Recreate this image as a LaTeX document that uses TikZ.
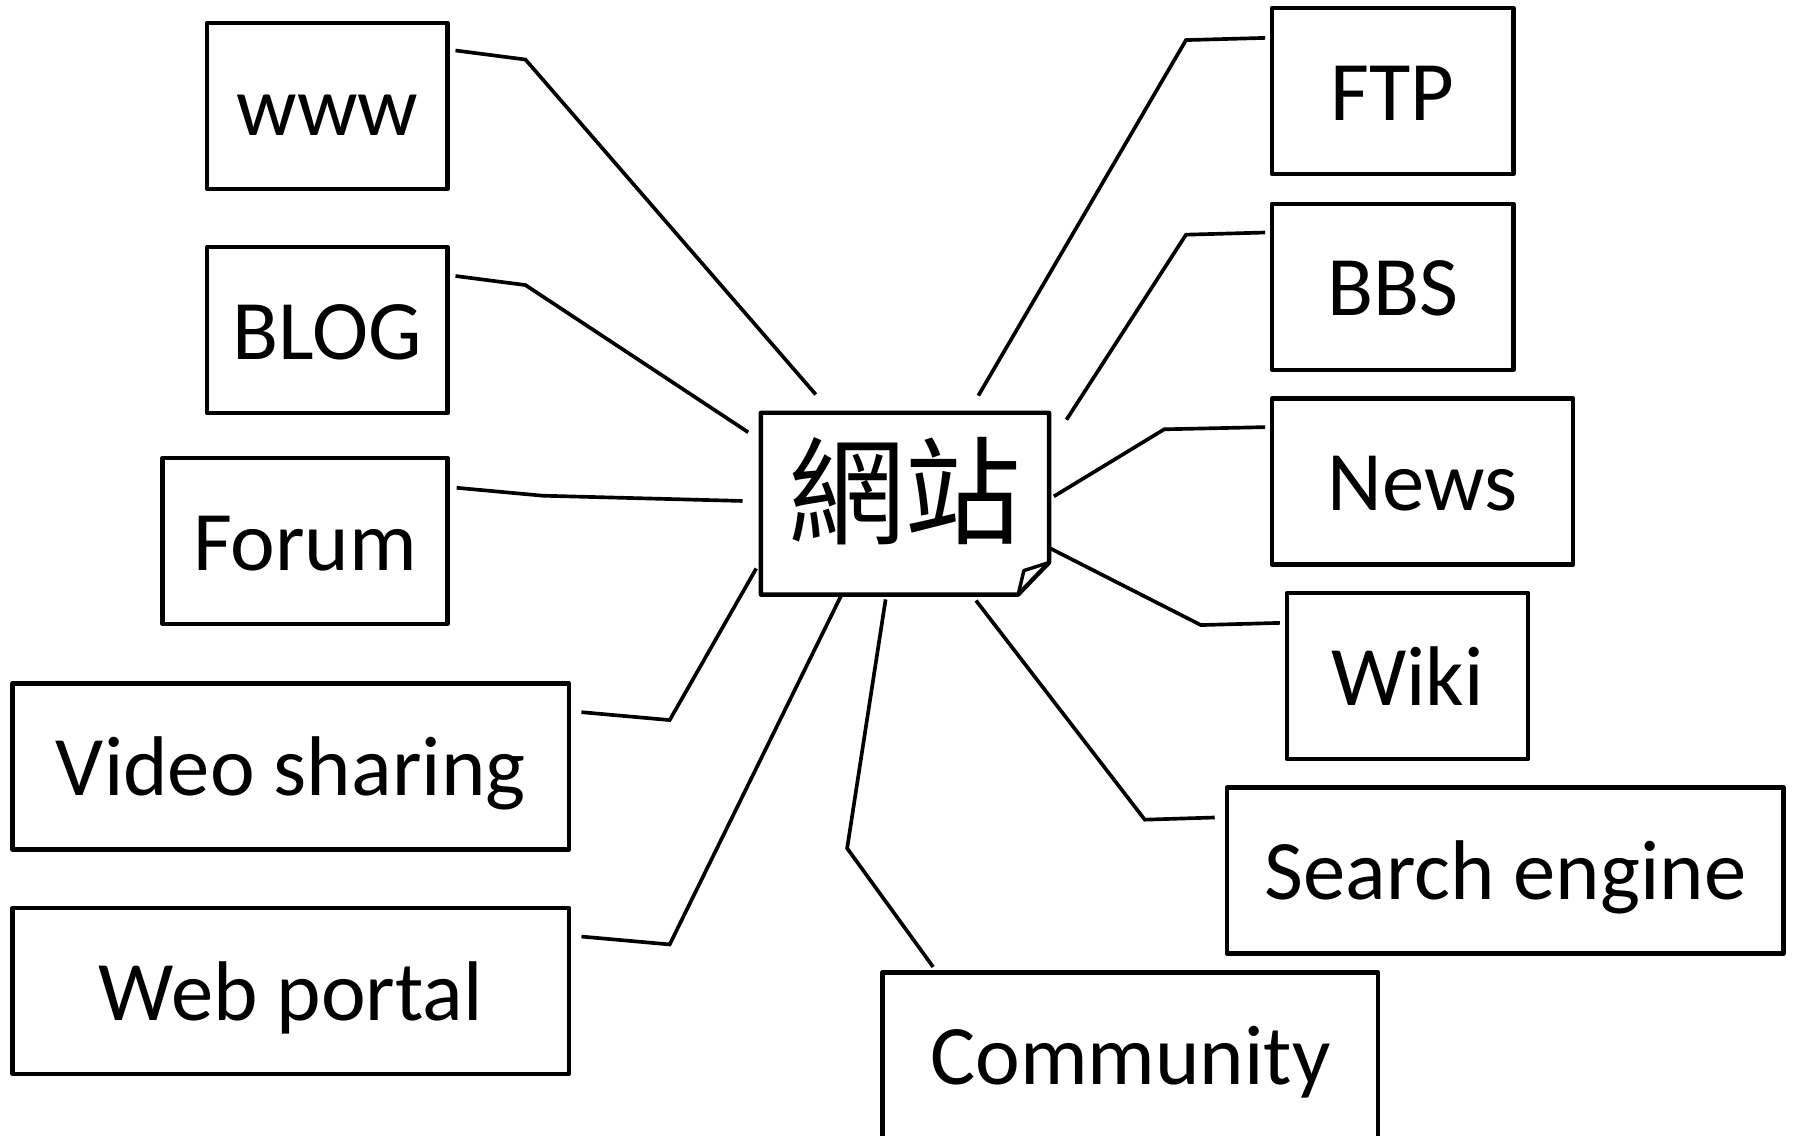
\documentclass[tikz,border=0pt]{standalone}
\usepackage{fontspec}
\setmainfont{Carlito}
\newfontfamily\cjkfont{Noto Sans CJK TC}
\usetikzlibrary{calc}
\begin{document}
\begin{tikzpicture}[x=0.5pt,y=-0.5pt,
  box/.style={draw,line width=1.9pt,line join=round,inner sep=0pt,
    minimum height=72.5pt,font=\fontsize{37}{41}\selectfont,
    text height=32.5pt,text depth=7pt},
  conn/.style={line width=1.6pt,line join=miter}]
\useasboundingbox (0,0) rectangle (1568,992);
\clip (0,0) rectangle (1568,992);
% left boxes
\node[box,minimum width=105pt] (www) at (286,92.5) {www};
\node[box,minimum width=105pt] (blog) at (286,288.5) {BLOG};
\node[box,minimum width=124.5pt] (forum) at (266.5,472.5) {Forum};
\node[box,minimum width=243pt] (video) at (254,669.5) {Video sharing};
\node[box,minimum width=243pt] (portal) at (254,865.5) {Web portal};
% right boxes
\node[box,minimum width=105.5pt] (ftp) at (1216.5,79.5) {FTP};
\node[box,minimum width=105.5pt] (bbs) at (1216.5,250.5) {BBS};
\node[box,minimum width=131.5pt] (news) at (1242.5,420.5) {News};
\node[box,minimum width=105.5pt] (wiki) at (1229.5,590.5) {Wiki};
\node[box,minimum width=243pt] (search) at (1315,760.5) {Search engine};
\node[box,minimum width=216.5pt] (comm) at (987.5,922) {Community};
% centre
\node[inner sep=0pt,minimum width=125.5pt,minimum height=79pt,
  text height=40pt,text depth=12pt,
  font=\cjkfont\fontsize{51}{55}\selectfont] (c) at (790.5,440) {網站};
\draw[line width=1.9pt,line join=round]
  (c.north west) -- (c.north east) -- ($(c.south east)+(0,-28)$)
  -- ($(c.south east)+(-27,0)$) -- (c.south west) -- cycle;
\draw[line width=1.5pt,line join=round]
  ($(c.south east)+(-27,0)$) -- ($(c.south east)+(-22,-21)$) -- ($(c.south east)+(0,-28)$);
% connectors left
\draw[conn] ($(www.north east)+(5,26)$) -- (459,52) -- ($(c.north west)+(48,-16)$);
\draw[conn] ($(blog.north east)+(5,27)$) -- (459,249) -- ($(c.north west)+(-11,17)$);
\draw[conn] ($(forum.north east)+(6,28)$) -- (474,433) -- ($(c.north west)+(-16,77)$);
\draw[conn] ($(video.north east)+(9,27)$) -- (585,629) -- ($(c.north west)+(-4,136)$);
\draw[conn] ($(portal.north east)+(9,27)$) -- (585,825) -- ($(c.north west)+(70,160)$);
% connectors right
\draw[conn] ($(comm.north west)+(46,-3)$) -- (740,741) -- ($(c.north west)+(109,163)$);
\draw[conn] ($(search.north west)+(-9,28)$) -- (1000,716) -- ($(c.north west)+(188,164)$);
\draw[conn] ($(wiki.north west)+(-4,28)$) -- (1049,546) -- ($(c.north west)+(252,118)$);
\draw[conn] ($(news.north west)+(-4,27)$) -- (1017,375) -- ($(c.north west)+(256,73)$);
\draw[conn] ($(bbs.north west)+(-4,27)$) -- (1036,205) -- ($(c.north west)+(267,6)$);
\draw[conn] ($(ftp.north west)+(-4,28)$) -- (1036,35) -- ($(c.north west)+(190,-15)$);
\end{tikzpicture}
\end{document}
